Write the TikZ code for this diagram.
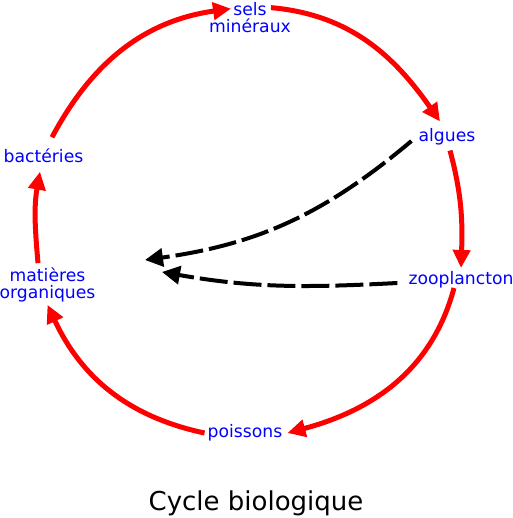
\documentclass[tikz,border=0pt]{standalone}
\usepackage{fontspec}
\setmainfont{DejaVu Sans}
\usetikzlibrary{arrows.meta}

\begin{document}
\begin{tikzpicture}[x=1pt, y=1pt,
  stage/.style={text=blue, font=\fontsize{17.2}{17}\selectfont, align=center, inner sep=3pt},
  cyclearrow/.style={red, line width=5pt, -{Triangle[length=18pt, width=17pt]}},
  feedarrow/.style={black, line width=4pt, dash pattern=on 28pt off 6pt, -{Triangle[length=18pt, width=18pt]}}]

\useasboundingbox (0,0) rectangle (512,518);

\node[stage] (sels) at (250,500) {sels\\ minéraux};
\node[stage] (algues) at (447,381) {algues};
\node[stage] (zoo) at (461,238.5) {zooplancton};
\node[stage] (poissons) at (245,85) {poissons};
\node[stage] (matieres) at (47.5,233.5) {matières\\ organiques};
\node[stage] (bacteries) at (43.5,362.5) {bactéries};
\node[font=\fontsize{26}{30}\selectfont] (titre) at (256,15) {Cycle biologique};

\coordinate (proieA) at (145,258);
\coordinate (proieB) at (162,246);

% cycle
\draw[cyclearrow] ([shift={(8.5pt,8pt)}]bacteries.north) to[out=62, in=188] ([shift={(-19pt,-9pt)}]sels.north);
\draw[cyclearrow] ([shift={(21pt,-8pt)}]sels.north) to[out=-5, in=125] ([shift={(-7pt,4pt)}]algues.north);
\draw[cyclearrow] ([shift={(3pt,-2pt)}]algues.south) to[out=-75, in=88] (zoo.north);
\draw[cyclearrow] ([shift={(-7pt,3pt)}]zoo.south) to[out=-105, in=15] ([xshift=2pt]poissons.east);
\draw[cyclearrow] (poissons.west) to[out=168, in=-65] (matieres.south);
\draw[cyclearrow] ([shift={(-9.5pt,1pt)}]matieres.north) to[out=95, in=-100] ([shift={(-3.5pt,-6pt)}]bacteries.south);

% consommation
\draw[feedarrow] ([shift={(-4pt,-4pt)}]algues.west) to[out=220, in=8] (proieA);
\draw[feedarrow] ([shift={(-8pt,-3.5pt)}]zoo.west) to[out=183, in=-10] (proieB);

\end{tikzpicture}
\end{document}
